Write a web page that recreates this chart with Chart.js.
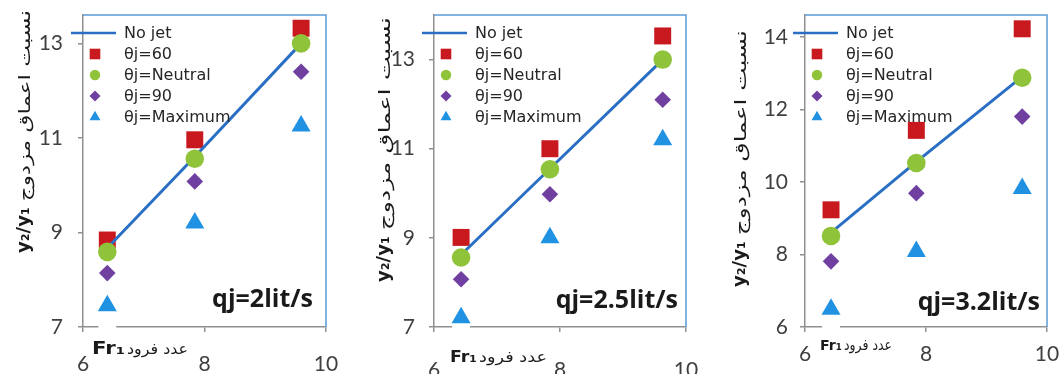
<!DOCTYPE html>
<html>
<head>
<meta charset="utf-8">
<script src="https://cdn.jsdelivr.net/npm/chart.js@4.4.0/dist/chart.umd.min.js"></script>
<style>
  html, body { margin: 0; padding: 0; background: #fff; }
  #wrap { position: relative; width: 1061px; height: 374px; overflow: hidden; }
  .panel { position: absolute; top: 0; height: 374px; }
</style>
</head>
<body>
<div id="wrap">
  <div class="panel" style="left:0px;width:355px"><canvas id="c1"></canvas></div>
  <div class="panel" style="left:355px;width:350px"><canvas id="c2"></canvas></div>
  <div class="panel" style="left:705px;width:356px"><canvas id="c3"></canvas></div>
</div>
<script>
// series names (legend order)
const seriesNames = ["No jet", "θj=60", "θj=Neutral", "θj=90", "θj=Maximum"];
const xTitle = "عدد فرود";
const yTitle = "نسبت اعماق مزدوج";
const xTicks = [6, 8, 10];

// qj = 2 lit/s
const fr_a = [6.4, 7.84, 9.59];
const noJet_a = [8.67, 10.6, 13.0];
const t60_a = [8.84, 10.96, 13.32];
const tNeutral_a = [8.59, 10.56, 13.0];
const t90_a = [8.14, 10.08, 12.4];
const tMax_a = [7.45, 9.2, 11.25];
const yRange_a = [7, 13.6];
const yTicks_a = [7, 9, 11, 13];

// qj = 2.5 lit/s
const fr_b = [6.43, 7.84, 9.63];
const noJet_b = [8.62, 10.55, 13.0];
const t60_b = [9.01, 11.0, 13.53];
const tNeutral_b = [8.56, 10.54, 13.0];
const t90_b = [8.07, 9.98, 12.1];
const tMax_b = [7.21, 9.0, 11.2];
const yRange_b = [7, 14];
const yTicks_b = [7, 9, 11, 13];

// qj = 3.2 lit/s
const fr_c = [6.43, 7.84, 9.59];
const noJet_c = [8.6, 10.55, 12.9];
const t60_c = [9.23, 11.42, 14.22];
const tNeutral_c = [8.51, 10.52, 12.87];
const t90_c = [7.81, 9.69, 11.8];
const tMax_c = [6.49, 8.08, 9.82];
const yRange_c = [6, 14.6];
const yTicks_c = [6, 8, 10, 12, 14];

const colors = {
    line: "#2a6fc4",
    red: "#c81a1e",
    green: "#8fc33a",
    purple: "#7040a0",
    tri: "#2192e2",
    axis: "#8f8f8f",
    frame: "#5b9bd5",
    text: "#262626"
};

const markers = [
    { style: "rect", color: colors.red, r: 12, lr: 7.5 },
    { style: "circle", color: colors.green, r: 9.3, lr: 5.2 },
    { style: "rectRot", color: colors.purple, r: 8.3, lr: 5.5 },
    { style: "triangle", color: colors.tri, r: 11, lr: 6.3 }
];

function pts(xs, ys) {
    return xs.map((x, i) => ({ x: x, y: ys[i] }));
}

function drawMark(ctx, m, r, x, y) {
    ctx.fillStyle = m.color;
    if (Chart.helpers && Chart.helpers.drawPoint) {
        Chart.helpers.drawPoint(ctx, { pointStyle: m.style, radius: r, rotation: 0, borderWidth: 0 }, x, y);
    }
}

// draw text at a fixed size, squeezed/stretched horizontally to a given length
function fitText(ctx, text, x, y, len, font) {
    ctx.font = font;
    const w = ctx.measureText(text).width;
    ctx.save();
    ctx.translate(x, y);
    ctx.scale(len / w, 1);
    ctx.fillText(text, 0, 0);
    ctx.restore();
}

function makePanel(id, p) {
    const decor = {
        id: "decor",
        afterDraw(chart) {
            const ctx = chart.ctx;
            const a = chart.chartArea;
            ctx.save();

            // blue frame (top + right)
            ctx.strokeStyle = colors.frame;
            ctx.lineWidth = 1.5;
            ctx.beginPath();
            ctx.moveTo(a.left, a.top);
            ctx.lineTo(a.right, a.top);
            ctx.lineTo(a.right, a.bottom);
            ctx.stroke();

            // legend
            ctx.font = "16px 'DejaVu Sans'";
            ctx.textBaseline = "middle";
            ctx.textAlign = "left";
            const rowY = i => 33 + 21 * i;
            ctx.strokeStyle = colors.line;
            ctx.lineWidth = 2.5;
            ctx.beginPath();
            ctx.moveTo(a.left - 12, rowY(0));
            ctx.lineTo(a.left + 33, rowY(0));
            ctx.stroke();
            markers.forEach((m, i) => drawMark(ctx, m, m.lr, a.left + 12, rowY(i + 1)));
            ctx.fillStyle = colors.text;
            seriesNames.forEach((s, i) => ctx.fillText(s, a.left + 41, rowY(i) + 1));

            // flow label
            ctx.font = "bold 25px 'Open Sans'";
            ctx.textAlign = "right";
            ctx.textBaseline = "alphabetic";
            ctx.fillStyle = "#1a1a1a";
            ctx.fillText(p.label, p.labelX, p.labelY);

            // x title: Fr1 + persian
            ctx.textAlign = "left";
            const xt = p.xt;
            fitText(ctx, "Fr₁", xt[0], xt[3], xt[1] - xt[0], "bold " + p.frSize + "px 'DejaVu Sans'");
            fitText(ctx, xTitle, xt[1] + 2, xt[3], xt[2] - xt[1] - 2, "15px 'DejaVu Sans'");

            // y title, rotated
            const yt = p.yt;
            ctx.translate(yt[0], yt[1]);
            ctx.rotate(-Math.PI / 2);
            ctx.font = "bold 18px 'DejaVu Sans'";
            const wY = ctx.measureText("y₂/y₁").width;
            ctx.fillText("y₂/y₁", 0, 0);
            fitText(ctx, yTitle, wY + 6, 1, yt[1] - yt[2] - wY - 6, "16px 'DejaVu Sans'");

            ctx.restore();
        }
    };

    const ymin = p.yr[0];
    new Chart(document.getElementById(id), {
        type: "scatter",
        data: {
            datasets: [
                { label: "base", data: pts([p.fr[0]], [ymin]), pointRadius: 9, pointBackgroundColor: "#ffffff", pointBorderWidth: 0, order: 6 },
                { label: seriesNames[1], data: pts(p.fr, p.t60), pointStyle: "rect", pointRadius: markers[0].r, pointBackgroundColor: colors.red, pointBorderWidth: 0, order: 5 },
                { label: seriesNames[0], data: pts(p.fr, p.noJet), showLine: true, borderColor: colors.line, borderWidth: 3, pointRadius: 0, order: 4 },
                { label: seriesNames[2], data: pts(p.fr, p.tN), pointStyle: "circle", pointRadius: markers[1].r, pointBackgroundColor: colors.green, pointBorderWidth: 0, order: 3 },
                { label: seriesNames[3], data: pts(p.fr, p.t90), pointStyle: "rectRot", pointRadius: markers[2].r, pointBackgroundColor: colors.purple, pointBorderWidth: 0, order: 2 },
                { label: seriesNames[4], data: pts(p.fr, p.tMax), pointStyle: "triangle", pointRadius: markers[3].r, pointBackgroundColor: colors.tri, pointBorderWidth: 0, order: 1 }
            ].map(d => Object.assign(d, { clip: false, pointHoverRadius: d.pointRadius }))
        },
        options: {
            responsive: true,
            maintainAspectRatio: false,
            animation: false,
            layout: { autoPadding: false, padding: { left: 0, right: p.padRight, top: 15, bottom: 0 } },
            plugins: { legend: { display: false }, tooltip: { enabled: false } },
            scales: {
                x: {
                    type: "linear",
                    min: 6, max: 10,
                    afterBuildTicks: s => { s.ticks = xTicks.map(v => ({ value: v })); },
                    afterFit: s => { s.height = 47; s.paddingLeft = 0; s.paddingRight = 0; },
                    border: { color: colors.axis, width: 1.5 },
                    grid: { drawOnChartArea: false, drawTicks: true, tickLength: 5, color: colors.axis, lineWidth: 1.5 },
                    ticks: { padding: p.xPad, color: "#404040", font: { family: "Lato", size: 21 } }
                },
                y: {
                    min: ymin, max: p.yr[1],
                    afterBuildTicks: s => { s.ticks = p.yTicks.map(v => ({ value: v })); },
                    afterFit: s => { s.width = p.plotLeft; s.paddingTop = 0; s.paddingBottom = 0; },
                    border: { color: colors.axis, width: 1.5 },
                    grid: { drawOnChartArea: false, drawTicks: true, tickLength: 5, color: colors.axis, lineWidth: 1.5 },
                    ticks: { padding: p.yPad, color: "#404040", font: { family: "Lato", size: 21 } }
                }
            }
        },
        plugins: [decor]
    });
}

makePanel("c1", {
    fr: fr_a, noJet: noJet_a, t60: t60_a, tN: tNeutral_a, t90: t90_a, tMax: tMax_a, yr: yRange_a, yTicks: yTicks_a,
    plotLeft: 83, padRight: 29, xPad: 20, yPad: 15,
    label: "qj=2lit/s", labelX: 313, labelY: 307,
    xt: [92, 125, 188, 354], frSize: 17, yt: [29, 253, 10]
});
makePanel("c2", {
    fr: fr_b, noJet: noJet_b, t60: t60_b, tN: tNeutral_b, t90: t90_b, tMax: tMax_b, yr: yRange_b, yTicks: yTicks_b,
    plotLeft: 79, padRight: 19, xPad: 26, yPad: 14,
    label: "qj=2.5lit/s", labelX: 323, labelY: 308,
    xt: [95, 122, 192, 362], frSize: 15, yt: [34, 282, 17]
});
makePanel("c3", {
    fr: fr_c, noJet: noJet_c, t60: t60_c, tN: tNeutral_c, t90: t90_c, tMax: tMax_c, yr: yRange_c, yTicks: yTicks_c,
    plotLeft: 100, padRight: 14, xPad: 10, yPad: 12,
    label: "qj=3.2lit/s", labelX: 335, labelY: 310,
    xt: [115, 137, 187, 350], frSize: 14, yt: [40, 287, 30]
});
</script>
</body>
</html>
